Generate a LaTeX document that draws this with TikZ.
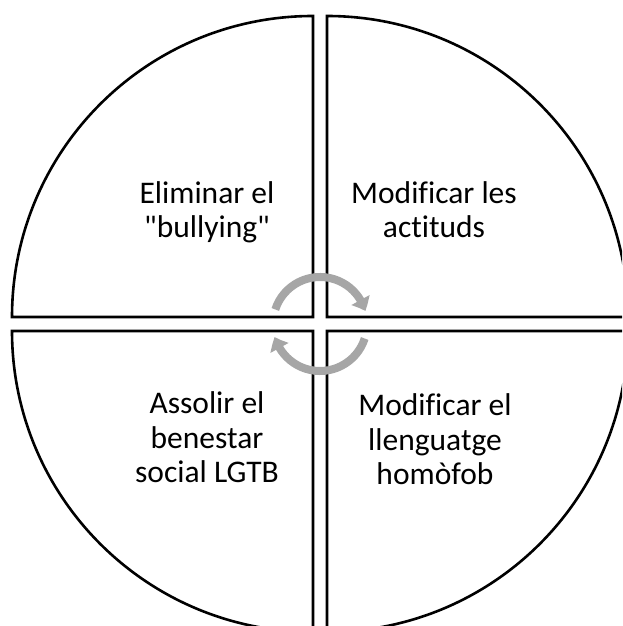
\documentclass[tikz,border=0pt]{standalone}
\usepackage{fontspec}
\setmainfont{Carlito}[Ligatures={TeXOff,NoCommon}]
\usepackage{tikz}
\usetikzlibrary{calc}
\usetikzlibrary{arrows.meta}
\usetikzlibrary{bending}
\usetikzlibrary{positioning}
\definecolor{arrowgray}{HTML}{A6A6A6}
\tikzset{quad/.style={draw=black,fill=white,line width=2.6pt,line join=miter}}
\tikzset{lbl/.style={align=center,inner sep=0pt,anchor=base,font=\fontsize{31.5}{34.5}\selectfont}}
\tikzset{cyc/.style={draw=arrowgray,line width=8pt,-{Triangle[length=12pt,width=20pt,bend]}}}

\begin{document}
\begin{tikzpicture}[x=1pt,y=1pt]
\useasboundingbox (0,0) rectangle (622,626);
\clip (0,0) rectangle (622,626);
\coordinate (C) at (320,302);

\foreach \dx / \dy / \a in {-7/7/90, 7/7/0, -7/-7/180, 7/-7/270}
{
	\draw[quad] ($(C)+(\dx,\dy)$) -- ++(\a:301) arc[start angle=\a, delta angle=90, radius=301] -- cycle;
}

\draw[cyc] (C) ++(162:47) arc[start angle=162, end angle=16, radius=47];
\draw[cyc] (C) ++(-18:47) arc[start angle=-18, end angle=-164, radius=47];

\node (elim) at (207,388) [lbl] {Eliminar el\\"bullying"};
\node (modact) at (434,388) [lbl] {Modificar les\\actituds};
\node (assolir) at (207,143) [lbl] {Assolir el\\benestar\\social LGTB};
\node (modllen) at (435,141) [lbl] {Modificar el\\llenguatge\\homòfob};
\end{tikzpicture}
\end{document}
